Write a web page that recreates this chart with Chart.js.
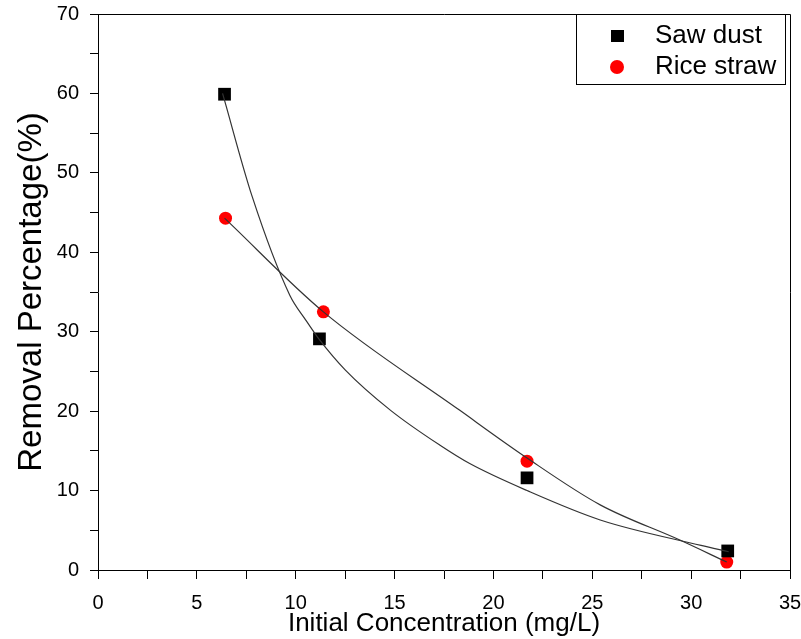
<!DOCTYPE html>
<html>
<head>
<meta charset="utf-8">
<script src="https://cdn.jsdelivr.net/npm/chart.js@4/dist/chart.umd.min.js"></script>
<style>
  html, body { margin: 0; padding: 0; background: #fff; }
  #wrap { width: 801px; height: 639px; }
</style>
</head>
<body>
<div id="wrap"><canvas id="chart" width="801" height="639"></canvas></div>
<script>
// measured points
const sawX = [6.4, 11.2, 21.7, 31.85];
const sawY = [59.9, 29.1, 11.6, 2.4];
const riceX = [6.45, 11.4, 21.7, 31.8];
const riceY = [44.3, 32.5, 13.7, 1.0];

// fitted curves
const sawFitX = [6.3, 7.8, 9.7, 10.5, 11.2, 12.5, 14.8, 17.3, 18.8, 21.7, 25.4, 30.5, 31.9];
const sawFitY = [60.0, 47.0, 34.6, 31.5, 29.0, 25.2, 20.1, 15.7, 13.4, 10.0, 6.3, 3.1, 2.3];
const riceFitX = [6.4, 11.4, 18.3, 21.7, 25.4, 29.4, 31.8];
const riceFitY = [44.3, 32.5, 20.1, 14.1, 8.2, 3.8, 1.0];

const xTicks = [0, 5, 10, 15, 20, 25, 30, 35];
const yTicks = [0, 10, 20, 30, 40, 50, 60, 70];

const toPts = (xs, ys) => xs.map((x, i) => ({ x: x, y: ys[i] }));
const FONT = "'Liberation Sans', Arial, sans-serif";

// no extra room for overhanging tick labels, the layout padding decides
function noOverhang(s) {
  s.paddingTop = 0;
  s.paddingBottom = 0;
  s.paddingLeft = 0;
  s.paddingRight = 0;
}

// box round the plot + legend in the top right corner
const framePlugin = {
  id: 'frame',
  afterDraw(chart) {
    const { ctx, chartArea: a } = chart;
    ctx.save();
    ctx.strokeStyle = '#000';
    ctx.lineWidth = 1;
    ctx.beginPath();
    ctx.moveTo(a.left, a.top + 0.5);
    ctx.lineTo(a.right + 0.5, a.top + 0.5);
    ctx.lineTo(a.right + 0.5, a.bottom);
    ctx.stroke();

    // legend
    const lx = 576, ly = a.top, lw = a.right - 5 - lx, lh = 70;
    ctx.fillStyle = '#fff';
    ctx.fillRect(lx, ly, lw, lh);
    ctx.strokeRect(lx + 0.5, ly + 0.5, lw, lh);
    const items = chart.data.datasets.filter(d => d.showInLegend);
    ctx.font = '26px ' + FONT;
    ctx.textBaseline = 'middle';
    items.forEach((d, i) => {
      const cy = ly + 22 + i * 31;
      ctx.fillStyle = d.backgroundColor;
      if (d.pointStyle === 'rect') {
        ctx.fillRect(611, cy - 6, 13, 12);
      } else {
        ctx.beginPath();
        ctx.arc(617, cy, 7, 0, Math.PI * 2);
        ctx.fill();
      }
      ctx.fillStyle = '#000';
      ctx.fillText(d.label, 655, cy);
    });
    ctx.restore();
  }
};

new Chart(document.getElementById('chart'), {
  type: 'scatter',
  data: {
    datasets: [
      {
        label: 'Saw dust fit',
        data: toPts(sawFitX, sawFitY),
        showLine: true,
        borderColor: '#333',
        borderWidth: 1.2,
        pointRadius: 0,
        cubicInterpolationMode: 'monotone',
        fill: false
      },
      {
        label: 'Rice straw fit',
        data: toPts(riceFitX, riceFitY),
        showLine: true,
        borderColor: '#333',
        borderWidth: 1.2,
        pointRadius: 0,
        cubicInterpolationMode: 'monotone',
        fill: false
      },
      {
        label: 'Saw dust',
        showInLegend: true,
        data: toPts(sawX, sawY),
        pointStyle: 'rect',
        pointRadius: 9,
        backgroundColor: '#000',
        borderColor: '#000',
        borderWidth: 0
      },
      {
        label: 'Rice straw',
        showInLegend: true,
        data: toPts(riceX, riceY),
        pointStyle: 'circle',
        pointRadius: 6.5,
        backgroundColor: '#ff0000',
        borderColor: '#ff0000',
        borderWidth: 0
      }
    ]
  },
  options: {
    responsive: false,
    animation: false,
    layout: { padding: { top: 14, right: 11, left: 0, bottom: 0 } },
    plugins: {
      legend: { display: false },
      tooltip: { enabled: false }
    },
    scales: {
      x: {
        type: 'linear',
        min: 0,
        max: 35,
        afterFit(s) { s.height = 69; noOverhang(s); },
        afterBuildTicks(s) {
          s.ticks = [];
          for (let v = 0; v <= 35; v += 2.5) s.ticks.push({ value: v });
        },
        grid: { drawOnChartArea: false, tickLength: 9, color: '#000', tickColor: '#000' },
        border: { display: true, color: '#000', width: 1 },
        ticks: {
          color: '#000',
          padding: 12,
          maxRotation: 0,
          autoSkip: false,
          font: { family: FONT, size: 20 },
          callback: v => xTicks.includes(v) ? String(v) : ''
        },
        title: {
          display: true,
          text: 'Initial Concentration (mg/L)',
          color: '#000',
          padding: { top: 0, bottom: 0 },
          font: { family: FONT, size: 26 }
        }
      },
      y: {
        type: 'linear',
        min: 0,
        max: 70,
        afterFit(s) { s.width = 98; noOverhang(s); },
        afterBuildTicks(s) {
          s.ticks = [];
          for (let v = 0; v <= 70; v += 5) s.ticks.push({ value: v });
        },
        grid: { drawOnChartArea: false, tickLength: 8, color: '#000', tickColor: '#000' },
        border: { display: true, color: '#000', width: 1 },
        ticks: {
          color: '#000',
          padding: 11,
          autoSkip: false,
          font: { family: FONT, size: 20 },
          callback: v => yTicks.includes(v) ? String(v) : ''
        },
        title: {
          display: true,
          text: 'Removal Percentage(%)',
          color: '#000',
          padding: { top: 12, bottom: 4 },
          font: { family: FONT, size: 33 }
        }
      }
    }
  },
  plugins: [framePlugin]
});
</script>
</body>
</html>
